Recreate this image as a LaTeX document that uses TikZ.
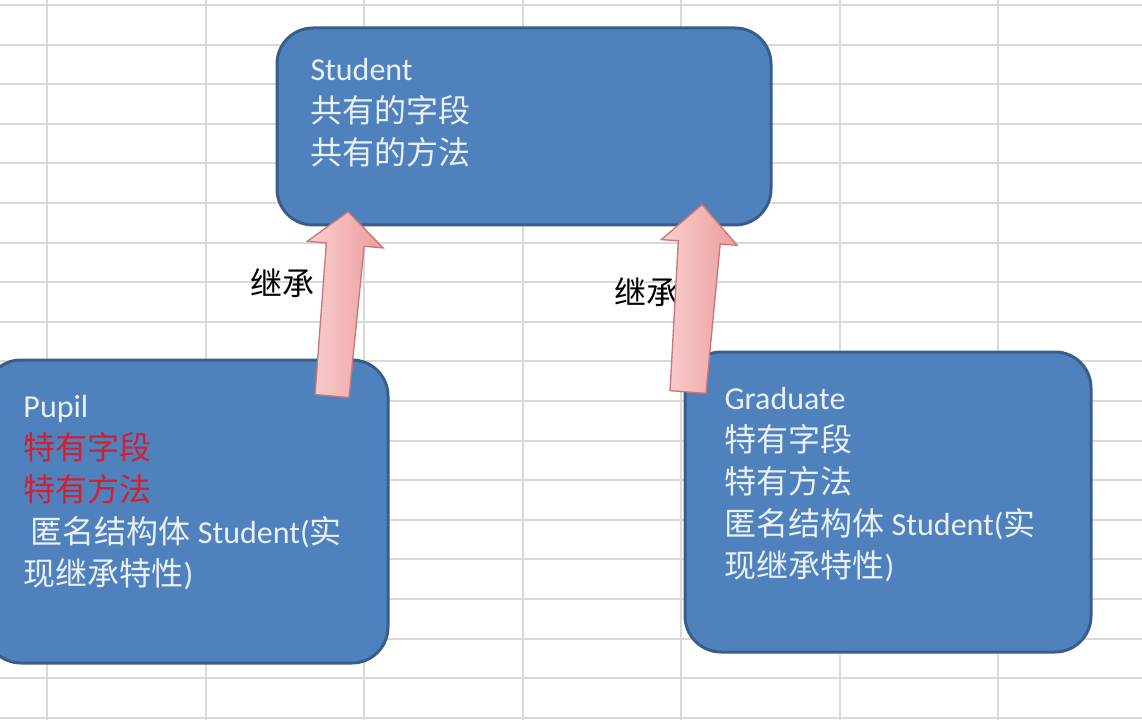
\documentclass[tikz,border=0pt]{standalone}
\usepackage{fontspec}
\setmainfont{Carlito}
\newfontfamily\cjk{Noto Sans CJK SC}
\definecolor{boxblue}{HTML}{4F81BD}
\definecolor{boxedge}{HTML}{385D8A}
\definecolor{boxtext}{HTML}{E9F0FA}
\definecolor{fieldred}{HTML}{D2202E}
\definecolor{gridgray}{HTML}{D9D9D9}
\definecolor{arrowlight}{HTML}{FAD0D0}
\definecolor{arrowdark}{HTML}{EC9C9C}
\definecolor{arrowedge}{HTML}{C97777}
\tikzset{every picture/.style={line width=0.75pt}}
\tikzset{
  gridline/.style={draw=gridgray, line width=1.5pt},
  classbox/.style={draw=boxedge, fill=boxblue, line width=2.25pt, rounded corners=27pt},
  classtext/.style={anchor=north west, inner sep=0.75pt, align=left, text=boxtext, font=\fontsize{24}{31.5}\selectfont},
  inhlabel/.style={inner sep=0.75pt, font=\cjk\fontsize{24}{30}\selectfont},
  inharrow/.style={draw=arrowedge, line width=1pt, left color=arrowlight, right color=arrowdark},
}

\begin{document}
\begin{tikzpicture}[x=0.75pt,y=0.75pt,yscale=-1,xscale=1]
    \useasboundingbox (0,0) rectangle (1142,720);
    \fill[white] (0,0) rectangle (1142,720);
    \clip (0,0) rectangle (1142,720);
    %Grid Lines
    \foreach \x in {47,205.5,...,1000} \draw[gridline] (\x,0) -- (\x,720);
    \foreach \y in {5,44.6,...,719} \draw[gridline] (0,\y) -- (1142,\y);
    %Rounded Rect
    \node[classbox, minimum width=370.5pt, minimum height=147.75pt] (student) at (524,126.5) {};
    %Rounded Rect
    \node[classbox, minimum width=302.25pt, minimum height=227.25pt] (pupil) at (186.5,511.5) {};
    %Rounded Rect
    \node[classbox, minimum width=304.5pt, minimum height=225pt] (graduate) at (888,502) {};
    % Text Node
    \node[classtext] (studenttext) at (309,57) {Student\\{\cjk 共有的字段}\\{\cjk 共有的方法}};
    % Text Node
    \node[classtext] (pupiltext) at (22,394) {Pupil\\{\color{fieldred}\cjk 特有字段}\\{\color{fieldred}\cjk 特有方法}\\~{\cjk 匿名结构体} Student({\cjk 实}\\{\cjk 现继承特性})};
    % Text Node
    \node[classtext] (gradtext) at (723,386) {Graduate\\{\cjk 特有字段}\\{\cjk 特有方法}\\{\cjk 匿名结构体} Student({\cjk 实}\\{\cjk 现继承特性})};
    % Text Node
    \node[inhlabel] (inhleft) at (282,283) {继承};
    % Text Node
    \node[inhlabel] (inhright) at (646,292) {继承};
    %Up Arrow
    \coordinate (pupiltail) at (332,396);
    \begin{scope}[shift={(pupiltail)}, rotate=5]
      \draw[inharrow] (-17,0) -- (-19,-152) -- (-38,-152) -- (0,-185) -- (38,-152) -- (19,-152) -- (17,0) -- cycle;
    \end{scope}
    %Up Arrow
    \coordinate (gradtail) at (688,392);
    \begin{scope}[shift={(gradtail)}, rotate=4.3]
      \draw[inharrow] (-18,0) -- (-21,-150) -- (-38,-150) -- (0,-188) -- (38,-150) -- (21,-150) -- (18,0) -- cycle;
    \end{scope}
\end{tikzpicture}
\end{document}
